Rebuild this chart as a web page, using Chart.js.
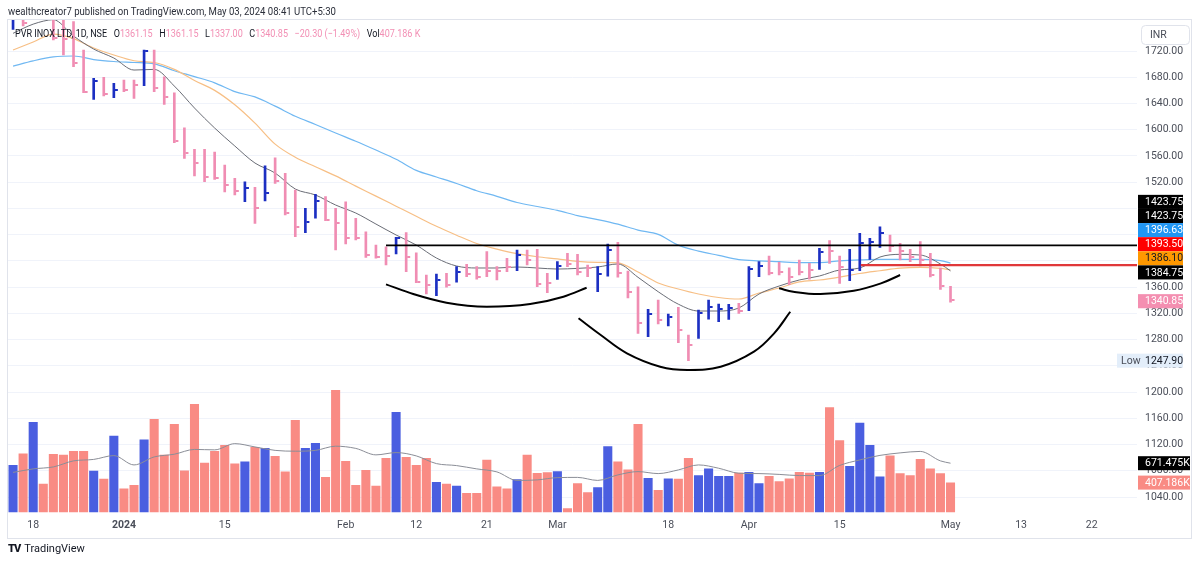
<!DOCTYPE html>
<html>
<head>
<meta charset="utf-8">
<script src="https://cdn.jsdelivr.net/npm/chart.js@4.4.1/dist/chart.umd.min.js"></script>
<style>
  html, body { margin: 0; padding: 0; background: #fff; }
  body { width: 1200px; height: 563px; overflow: hidden; position: relative; font-family: Roboto, "Liberation Sans", sans-serif; color: #131722; }
  #c { position: absolute; left: 0; top: 0; }
  #hdr { position: absolute; left: 8px; top: 5px; font-size: 11px; color: #2a2e39; white-space: nowrap; transform: scaleX(0.87); transform-origin: 0 0; }
  #lgd { position: absolute; left: 15px; top: 27px; font-size: 11px; color: #131722; white-space: nowrap; transform: scaleX(0.82); transform-origin: 0 0; }
  #lgd .v { color: #f28fb4; font-style: normal; }
  #lgd span { margin-right: 8px; }
  #logo { position: absolute; left: 8px; top: 542px; font-size: 11px; color: #131722; white-space: nowrap; }
  #logo b { font-weight: 900; letter-spacing: -1px; margin-right: 4px; }
</style>
</head>
<body>
<canvas id="c" width="1200" height="563"></canvas>
<div id="hdr">wealthcreator7 published on TradingView.com, May 03, 2024 08:41 UTC+5:30</div>
<div id="lgd"><span>PVR INOX LTD, 1D, NSE</span><span>O<i class="v">1361.15</i></span><span>H<i class="v">1361.15</i></span><span>L<i class="v">1337.00</i></span><span>C<i class="v">1340.85</i></span><span class="v">−20.30 (−1.49%)</span><span>Vol<i class="v">407.186 K</i></span></div>
<div id="logo"><b>TV</b>TradingView</div>
<script>
// PVR INOX LTD, 1D, NSE — bars

const dates = [
  '2023-12-14','2023-12-15','2023-12-18','2023-12-19','2023-12-20','2023-12-21','2023-12-22','2023-12-26','2023-12-27','2023-12-28','2023-12-29',
  '2024-01-01','2024-01-02','2024-01-03','2024-01-04','2024-01-05','2024-01-08','2024-01-09','2024-01-10','2024-01-11','2024-01-12','2024-01-15',
  '2024-01-16','2024-01-17','2024-01-18','2024-01-19','2024-01-20','2024-01-23','2024-01-24','2024-01-25','2024-01-29','2024-01-30','2024-01-31',
  '2024-02-01','2024-02-02','2024-02-05','2024-02-06','2024-02-07','2024-02-08','2024-02-09','2024-02-12','2024-02-13','2024-02-14','2024-02-15',
  '2024-02-16','2024-02-19','2024-02-20','2024-02-21','2024-02-22','2024-02-23','2024-02-26','2024-02-27','2024-02-28','2024-02-29',
  '2024-03-01','2024-03-02','2024-03-04','2024-03-05','2024-03-06','2024-03-07','2024-03-11','2024-03-12','2024-03-13','2024-03-14','2024-03-15',
  '2024-03-18','2024-03-19','2024-03-20','2024-03-21','2024-03-22','2024-03-26','2024-03-27','2024-03-28',
  '2024-04-01','2024-04-02','2024-04-03','2024-04-04','2024-04-05','2024-04-08','2024-04-09','2024-04-10','2024-04-12','2024-04-15','2024-04-16',
  '2024-04-18','2024-04-19','2024-04-22','2024-04-23','2024-04-24','2024-04-25','2024-04-26','2024-04-29','2024-04-30','2024-05-02'
];
// empty space on the right of the last bar
const futureDates = ['2024-05-03','2024-05-06','2024-05-07','2024-05-08','2024-05-09','2024-05-10','2024-05-13','2024-05-14','2024-05-15',
  '2024-05-16','2024-05-17','2024-05-20','2024-05-21','2024-05-22','2024-05-23','2024-05-24','2024-05-27','2024-05-28'];

const highs = [1775,1785,1800,1805,1780,1770,1765,1721.5,1678.4,1679.9,1670.8,1675.8,1675.8,1721.5,1721.5,1680.8,1656.4,1603,1570.1,1570.1,
  1566,1546.2,1525.9,1520.7,1512.2,1545.1,1557.3,1533.5,1508.1,1480.2,1501.5,1497.9,1480.2,1490.2,1464.9,1444.5,1424.2,1421.6,1436,1443,
  1412.5,1378.5,1380,1381.1,1391.2,1394.8,1391.2,1414.1,1391.2,1403.9,1416.6,1416.6,1417.7,1381.1,1398.8,1411.6,1410,1393.7,1391.2,1425.8,
  1428.4,1384.5,1360.6,1326.2,1340.4,1319,1329.2,1287,1325.1,1340.4,1334.3,1333.8,1335.3,1391.2,1398.8,1407.5,1397.8,1389.3,1401.4,1396.3,
  1419.1,1430.8,1407.5,1417.6,1442.1,1434.5,1452.1,1439.5,1426.8,1417.6,1429.3,1411.6,1389.2,1361.15];
const lows = [1753.1,1758.1,1770,1772,1736.8,1713.9,1696,1656.4,1646.4,1651.4,1648.8,1658,1647.9,1667.1,1658,1638.7,1580.2,1556.4,1529.4,1520.7,
  1524.4,1505,1500.5,1490.2,1457.3,1491.3,1518.3,1470,1436.9,1443,1465,1461.3,1416.6,1425.8,1431.9,1405.5,1404,1393.7,1410.5,1383.5,
  1366.7,1349.5,1346.9,1359.8,1367.5,1375.9,1372,1375.9,1370.9,1383.5,1385,1393.7,1360.6,1351.5,1371.9,1391.2,1378.5,1375.9,1353.1,1376.9,
  1375.1,1343.7,1289.6,1284.4,1303.8,1300.7,1275.3,1247.9,1282,1311,1307.3,1310.9,1320.1,1324.1,1375.9,1378.5,1378.5,1363.7,1378.5,1372,
  1387,1396.3,1365.8,1369.8,1385,1402.4,1420.7,1414,1401.4,1398.8,1392.2,1375.5,1356.7,1337];
const closes = [1770,1762,1795,1778,1739.8,1739,1702.2,1658,1674.7,1654.4,1660.5,1660.5,1668.2,1720,1663.1,1649.4,1583.2,1564,1549.7,1527.4,
  1526.8,1515.7,1506.6,1510.7,1480.2,1503.1,1522.3,1473.8,1452.1,1459.8,1491.8,1462.3,1457.3,1434.4,1434.4,1409,1406.4,1407.5,1434.9,1405.5,
  1368.3,1363.2,1370.9,1363.2,1383.1,1380,1375.9,1385,1385,1390.2,1408.8,1401.4,1364.8,1366.7,1392.2,1395.3,1383.5,1388.7,1380,1416.1,
  1381.1,1353,1305.8,1318.6,1309.9,1314,1294.6,1271.8,1320.1,1329.3,1326.2,1327.7,1324,1387.2,1392.2,1382,1383.5,1375.9,1383.5,1386.1,
  1413.6,1415.1,1391.2,1386.1,1427.3,1429.3,1443,1422.7,1414.6,1406.4,1401.4,1378.5,1361.15,1340.85];
// bars drawn in blue (up days), by position
const upBars = [0,2,8,10,13,23,25,29,30,38,42,44,50,54,58,59,63,65,68,69,70,71,73,74,80,83,84,85,86];

// volume, thousands of shares
const volumes = [648,802,1234,390,798,785,839,839,567,458,1047,326,376,993,1275,785,1207,571,1479,676,
  839,921,666,693,893,880,771,557,1261,880,948,485,1670,703,376,580,366,744,1370,757,
  648,744,417,390,366,267,267,720,353,326,454,785,539,549,562,59,399,276,345,903,
  693,584,1207,471,308,462,458,744,508,598,498,498,543,553,399,498,426,462,553,543,
  553,1434,985,635,1224,921,489,775,535,508,730,598,535,407.186];

// moving averages, read every second bar
const maBars = [0,2,4,6,8,10,12,14,16,18,20,22,24,26,28,30,32,34,36,38,40,42,44,46,48,50,52,54,56,58,60,62,64,66,68,70,72,74,76,78,80,82,84,86,88,90,92,93];
const ma10 = [1747,1761,1768,1742.9,1723,1709.3,1691,1692,1666.6,1633.1,1602.6,1575.2,1549.2,1534,1509.6,1500.5,1485.2,1473,1456.2,1439.5,
  1424.2,1404.4,1392.2,1389.2,1389.2,1390.7,1389.2,1387.6,1388.6,1390.7,1395.3,1375,1353,1334,1323.6,1323.6,1328.2,1349.5,1361.7,1370.9,
  1377,1386.1,1389.2,1405.9,1410,1409,1395.3,1384.75];
const ma20 = [1721.5,1733.7,1745.9,1739,1724.6,1713.9,1705.2,1702.5,1692,1675,1660,1638,1610,1578,1558,1543.6,1529.6,1514,1498.8,1483.4,
  1468,1452.8,1439.2,1426.5,1418,1411,1406.3,1403,1399.3,1397.8,1397,1383,1366.3,1357.1,1349.5,1344.2,1341.9,1351,1358.7,1367.9,
  1370.9,1375.4,1380.8,1385,1389,1390,1388.5,1386.1];
const ma50 = [1697,1705,1711,1712.4,1707,1704,1702.5,1700.5,1690,1681,1671.5,1658,1650,1636,1620.5,1608,1595,1582.5,1569,1555,
  1538,1528,1518,1507,1498.5,1489,1483,1477,1469,1463,1456,1447,1440.5,1424,1415,1408.5,1402,1400,1398.8,1397.5,
  1397.5,1400,1401.5,1402.4,1402.4,1402.4,1400.5,1396.63];
const volMa = [546,594,621,703,723,775,648,757,794,859,853,938,893,846,835,846,903,873,785,816,
  771,666,639,594,553,437,444,475,478,437,512,557,530,580,648,603,535,530,519,503,
  503,641,716,778,812,832,703,671.475];

// drawings: horizontal levels and the three cup arcs, as [bar, price]
const resistance = { from: 37, price: 1423.75 };
const support = { from: 84.1, price: 1393.50 };
const arcLeft = [[37,1364.3],[39.7,1349.5],[43,1336.3],[47,1330.2],[51.3,1334.3],[54.6,1345.4],[56.9,1359.1]];
const arcMid = [[56.1,1312.5],[58.3,1287],[60.9,1259.1],[64.2,1238.7],[66.9,1233.7],[70.2,1238.7],[73.5,1261.6],[75.5,1289.6],[77.1,1322.5]];
const arcRight = [[76,1358.2],[77.4,1353],[80.1,1349.5],[83.4,1354.5],[86.1,1365.8],[88,1378.5]];

const tickDates = ['2023-12-18','2024-01-01','2024-01-15','2024-02-01','2024-02-12','2024-02-21','2024-03-01','2024-03-18','2024-04-01','2024-04-15','2024-05-02','2024-05-13','2024-05-22'];
const tickText = ['18','2024','15','Feb','12','21','Mar','18','Apr','15','May','13','22'];
const priceTicks = [1040,1080,1120,1160,1200,1240,1280,1320,1360,1400,1440,1480,1520,1560,1600,1640,1680,1720];

const UP = '#1c2fc2', DOWN = '#f08db3', VUP = '#4a5ee0', VDOWN = '#f98b84';
const FONT = 'Roboto, "Liberation Sans", sans-serif';

const allDates = dates.concat(futureDates);
const tickPos = tickDates.map(d => allDates.indexOf(d));
const isUp = i => upBars.indexOf(i) >= 0;
const pts = (xs, ys) => xs.map((x, k) => ({ x: x, y: ys[k] }));
const pairs = a => a.map(p => ({ x: p[0], y: p[1] }));

function tickImg(color) {
  const c = document.createElement('canvas');
  c.width = 10; c.height = 2;
  const g = c.getContext('2d');
  g.fillStyle = color;
  g.fillRect(6, 0, 3, 2);
  return c;
}
const tickUp = tickImg(UP), tickDown = tickImg(DOWN);

// price tags on the right axis
const tags = [
  { v: resistance.price, bg: '#000000', fg: '#ffffff' },
  { v: resistance.price, bg: '#000000', fg: '#ffffff' },
  { v: ma50[ma50.length - 1], bg: '#2196f3', fg: '#ffffff' },
  { v: support.price, bg: '#ff0000', fg: '#ffffff' },
  { v: ma20[ma20.length - 1], bg: '#ff9800', fg: '#131722' },
  { v: ma10[ma10.length - 1], bg: '#000000', fg: '#ffffff' },
  { v: closes[closes.length - 1], bg: '#f48fb1', fg: '#ffffff' }
];
const lowest = Math.min.apply(null, lows);

const overlay = {
  id: 'overlay',
  beforeDraw(chart) {
    const g = chart.ctx;
    g.save();
    g.fillStyle = '#fff';
    g.fillRect(0, 0, chart.width, chart.height);
    g.restore();
  },
  afterDraw(chart) {
    const g = chart.ctx, y = chart.scales.y, yv = chart.scales.yv, a = chart.chartArea;
    g.save();
    // frame
    g.strokeStyle = '#e0e3eb';
    g.lineWidth = 1;
    g.strokeRect(7.5, 19.5, 1184, 519);
    // stacked price tags
    const h = 14.1;
    const list = tags.map(t => Object.assign({ py: y.getPixelForValue(t.v) + 1.5 }, t)).sort((p, q) => p.py - q.py);
    for (let k = list.length - 2; k >= 0; k--) list[k].py = Math.min(list[k].py, list[k + 1].py - h);
    g.font = '10.5px ' + FONT;
    g.textBaseline = 'middle';
    g.textAlign = 'left';
    list.forEach(t => {
      g.fillStyle = t.bg;
      g.fillRect(a.right + 1, t.py - h / 2, 45, h);
      g.fillStyle = t.fg;
      g.fillText(t.v.toFixed(2), a.right + 8, t.py + 0.5);
    });
    // low marker
    const ly = y.getPixelForValue(lowest);
    g.fillStyle = '#e3eefa';
    g.fillRect(a.right - 20, ly - 7, 66, 14);
    g.fillStyle = '#4a4e59';
    g.fillText('Low', a.right - 16, ly + 0.5);
    g.fillStyle = '#131722';
    g.fillText(lowest.toFixed(2), a.right + 8, ly + 0.5);
    // volume tags
    const vtags = [
      { v: volMa[volMa.length - 1], bg: '#000000' },
      { v: volumes[volumes.length - 1], bg: VDOWN }
    ];
    vtags.forEach(t => {
      const py = yv.getPixelForValue(t.v);
      g.fillStyle = t.bg;
      g.fillRect(a.right + 1, py - 7, 52, 14);
      g.fillStyle = '#fff';
      g.fillText(t.v.toFixed(3) + 'K', a.right + 8, py + 0.5);
    });
    // currency button
    g.fillStyle = '#fff';
    g.strokeStyle = '#e0e3eb';
    g.beginPath();
    g.roundRect(1141.5, 25.5, 48, 19, 4);
    g.fill();
    g.stroke();
    g.fillStyle = '#4a4e59';
    g.fillText('INR', 1150, 35.5);
    g.restore();
  }
};

const ctx = document.getElementById('c').getContext('2d');
new Chart(ctx, {
  data: {
    datasets: [
      {
        type: 'bar', yAxisID: 'yv', order: 10, grouped: false, clip: 0,
        data: volumes.map((v, i) => ({ x: i, y: v })),
        backgroundColor: c => isUp(c.dataIndex) ? VUP : VDOWN,
        barPercentage: 0.9, categoryPercentage: 1
      },
      {
        type: 'line', yAxisID: 'yv', order: 9, clip: 0,
        data: pts(maBars, volMa),
        borderColor: '#8b8e97', borderWidth: 1, pointRadius: 0, cubicInterpolationMode: 'monotone'
      },
      {
        type: 'line', yAxisID: 'y', order: 8, clip: 0,
        data: pts(maBars, ma50),
        borderColor: '#70b8f2', borderWidth: 1.2, pointRadius: 0, cubicInterpolationMode: 'monotone'
      },
      {
        type: 'line', yAxisID: 'y', order: 7, clip: 0,
        data: pts(maBars, ma20),
        borderColor: '#f7bf85', borderWidth: 1.2, pointRadius: 0, cubicInterpolationMode: 'monotone'
      },
      {
        type: 'line', yAxisID: 'y', order: 6, clip: 0,
        data: pts(maBars, ma10),
        borderColor: '#6a6d76', borderWidth: 1, pointRadius: 0, cubicInterpolationMode: 'monotone'
      },
      {
        type: 'bar', yAxisID: 'y', order: 3, grouped: false, clip: 0,
        data: highs.map((hi, i) => ({ x: i, y: [lows[i], hi] })),
        backgroundColor: c => isUp(c.dataIndex) ? UP : DOWN,
        barThickness: 2
      },
      {
        type: 'scatter', yAxisID: 'y', order: 2, clip: 0,
        data: closes.map((v, i) => ({ x: i, y: v })),
        pointStyle: c => isUp(c.dataIndex) ? tickUp : tickDown,
        pointRadius: 3
      },
      {
        type: 'line', yAxisID: 'y', order: 1, clip: 0,
        data: [{ x: resistance.from, y: resistance.price }, { x: allDates.length, y: resistance.price }],
        borderColor: '#000', borderWidth: 1.6, pointRadius: 0
      },
      {
        type: 'line', yAxisID: 'y', order: 1, clip: 0,
        data: [{ x: support.from, y: support.price }, { x: allDates.length, y: support.price }],
        borderColor: '#e0383a', borderWidth: 2.2, pointRadius: 0
      },
      {
        type: 'line', yAxisID: 'y', order: 1, clip: 0,
        data: pairs(arcLeft), borderColor: '#000', borderWidth: 2, pointRadius: 0, cubicInterpolationMode: 'monotone'
      },
      {
        type: 'line', yAxisID: 'y', order: 1, clip: 0,
        data: pairs(arcMid), borderColor: '#000', borderWidth: 2, pointRadius: 0, tension: 0.4
      },
      {
        type: 'line', yAxisID: 'y', order: 1, clip: 0,
        data: pairs(arcRight), borderColor: '#000', borderWidth: 2, pointRadius: 0, tension: 0.4
      }
    ]
  },
  options: {
    responsive: false,
    animation: false,
    events: [],
    layout: { padding: { left: 8, top: 20, right: 8, bottom: 24.5 } },
    plugins: { legend: { display: false }, tooltip: { enabled: false } },
    scales: {
      x: {
        type: 'linear', offset: false, min: -0.5, max: allDates.length - 0.5,
        grid: { display: false, drawTicks: false, offset: false }, border: { display: false },
        afterBuildTicks: s => { s.ticks = tickPos.map(v => ({ value: v })); },
        afterFit: s => { s.height = 26; },
        ticks: {
          autoSkip: false, maxRotation: 0, padding: 7, color: '#4a4e59',
          callback: v => { const k = tickPos.indexOf(v); return k >= 0 ? tickText[k] : ''; },
          font: c => ({ family: FONT, size: 10.5, weight: (c.tick && c.tick.label === '2024') ? 'bold' : 'normal' })
        }
      },
      y: {
        position: 'right', min: 1016.4, max: 1767.3,
        grid: { color: '#f0f3fa', drawTicks: false }, border: { display: false },
        afterBuildTicks: s => { s.ticks = priceTicks.map(v => ({ value: v })); },
        afterFit: s => { s.width = 55; },
        ticks: { padding: 8, color: '#4a4e59', font: { family: FONT, size: 10.5 }, callback: v => v.toFixed(2) }
      },
      yv: { display: false, min: 0, max: 6708 }
    }
  },
  plugins: [overlay]
});
</script>
</body>
</html>
